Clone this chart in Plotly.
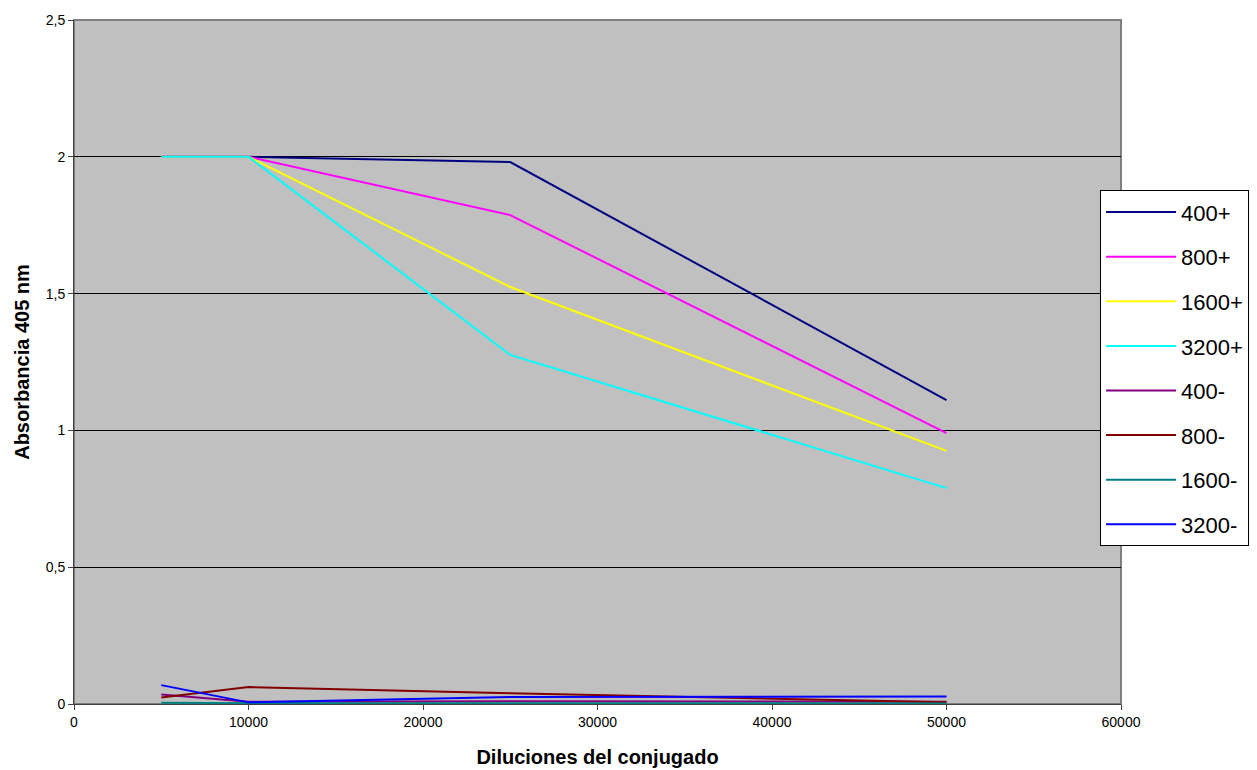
import plotly.graph_objects as go

# Conjugate dilutions (x) and absorbance readings at 405 nm per serum dilution
diluciones = [5000, 10000, 25000, 50000]

series_names = ["400+", "800+", "1600+", "3200+", "400-", "800-", "1600-", "3200-"]
series_colors = ["#000080", "#FF00FF", "#FFFF00", "#00FFFF",
                 "#800080", "#800000", "#008080", "#0000FF"]

abs_400_pos = [2.0, 2.0, 1.981, 1.111]
abs_800_pos = [2.0, 2.0, 1.787, 0.990]
abs_1600_pos = [2.0, 2.0, 1.524, 0.925]
abs_3200_pos = [2.0, 2.0, 1.276, 0.789]
abs_400_neg = [0.035, 0.008, 0.010, 0.008]
abs_800_neg = [0.024, 0.062, 0.039, 0.006]
abs_1600_neg = [0.005, 0.003, 0.003, 0.002]
abs_3200_neg = [0.069, 0.006, 0.026, 0.027]

series_values = [abs_400_pos, abs_800_pos, abs_1600_pos, abs_3200_pos,
                 abs_400_neg, abs_800_neg, abs_1600_neg, abs_3200_neg]

x_tick_vals = [0, 10000, 20000, 30000, 40000, 50000, 60000]
x_tick_text = ["0", "10000", "20000", "30000", "40000", "50000", "60000"]
y_tick_vals = [0, 0.5, 1, 1.5, 2, 2.5]
y_tick_text = ["0", "0,5", "1", "1,5", "2", "2,5"]

fig = go.Figure()
for i, (name, color, vals) in enumerate(zip(series_names, series_colors, series_values)):
    fig.add_trace(go.Scatter(
        x=diluciones, y=vals, name=name, mode="lines",
        line=dict(color=color, width=2), legendgroup=f"g{i}",
    ))

font_family = "Liberation Sans, Arial, sans-serif"

fig.update_layout(
    width=1257, height=770,
    margin=dict(l=74, r=136, t=20, b=66, autoexpand=False),
    paper_bgcolor="white",
    plot_bgcolor="#C0C0C0",
    font=dict(family=font_family, size=14, color="black"),
    showlegend=True,
    legend=dict(
        x=0.98, y=0.751, xanchor="left", yanchor="top",
        bgcolor="white", bordercolor="black", borderwidth=1,
        font=dict(size=22, family=font_family),
        tracegroupgap=13,
        itemwidth=70,
    ),
    xaxis=dict(
        range=[0, 60000], tickvals=x_tick_vals, ticktext=x_tick_text,
        showgrid=False, zeroline=False,
        showline=True, linecolor="#404040", linewidth=1,
        ticks="outside", ticklen=5, tickcolor="#404040",
        tickfont=dict(size=14),
        title=dict(text="<b>Diluciones del conjugado</b>", font=dict(size=20), standoff=21),
    ),
    yaxis=dict(
        range=[0, 2.5], tickvals=y_tick_vals, ticktext=y_tick_text,
        showgrid=True, gridcolor="black", gridwidth=1,
        zeroline=False,
        showline=True, linecolor="#404040", linewidth=1,
        ticks="outside", ticklen=5, tickcolor="#404040",
        tickfont=dict(size=14),
        title=dict(text="<b>Absorbancia 405 nm</b>", font=dict(size=20), standoff=10),
    ),
)

# Gray frame around the plotting area
fig.add_shape(type="rect", xref="paper", yref="paper", x0=0, y0=0, x1=1, y1=1,
              line=dict(color="#808080", width=2), layer="below")

fig.write_html("out.html")
